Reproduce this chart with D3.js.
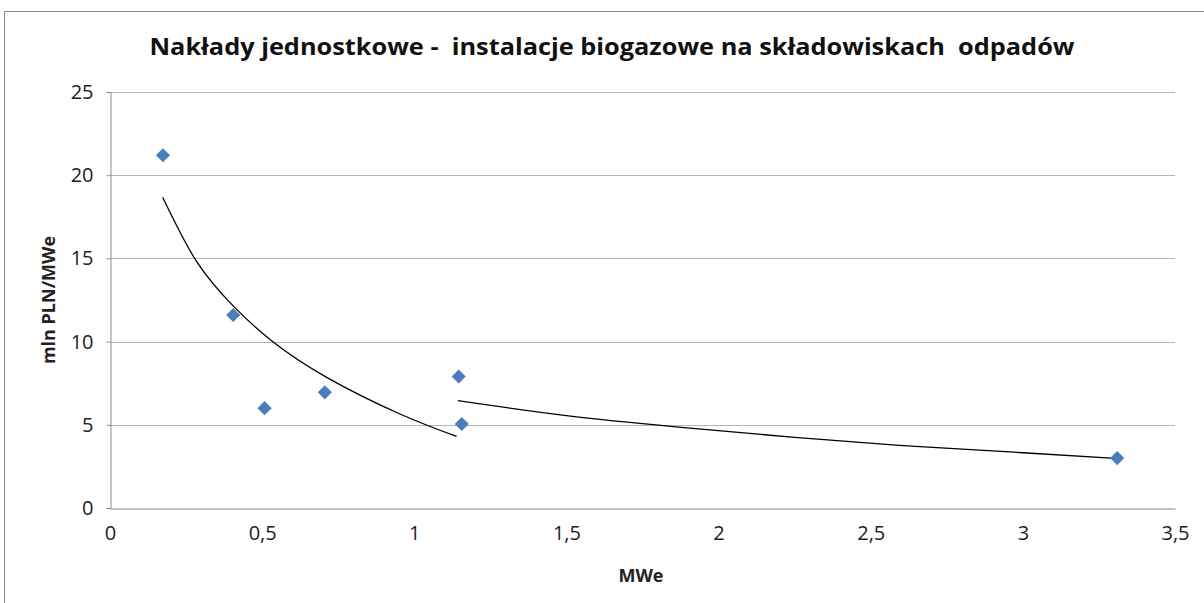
<!DOCTYPE html>
<html><head><meta charset="utf-8">
<script src="https://cdn.jsdelivr.net/npm/d3@7"></script>
<style>body{margin:0;background:#fff;}svg{display:block;font-family:"Open Sans",Calibri,sans-serif;}</style>
</head><body>
<svg id="c" width="1204" height="603"></svg>
<script>
const title = "Nakłady jednostkowe -  instalacje biogazowe na składowiskach  odpadów";
const xTitle = "MWe";
const yTitle = "mln PLN/MWe";
const pointsX = [0.174, 0.405, 0.508, 0.706, 1.146, 1.156, 3.31];
const pointsY = [21.2, 11.6, 6.0, 6.95, 7.9, 5.05, 3.0];
const trend1X = [0.173, 0.285, 0.407, 0.531, 0.712, 0.953, 1.139];
const trend1Y = [18.67, 14.8, 12.1, 10.05, 7.85, 5.65, 4.3];
const trend2X = [1.143, 1.5, 1.859, 2.25, 2.635, 3.0, 3.29];
const trend2Y = [6.45, 5.55, 4.88, 4.25, 3.72, 3.32, 3.0];
const xTicks = [0, 0.5, 1, 1.5, 2, 2.5, 3, 3.5];
const yTicks = [0, 5, 10, 15, 20, 25];

const svg = d3.select("#c");
const x = d3.scaleLinear().domain([0, 3.5]).range([110, 1175]);
const y = d3.scaleLinear().domain([0, 25]).range([508, 92]);
const fmt = d => String(d).replace(".", ",");

// outer frame
svg.append("path").attr("d", "M4.5,603 L4.5,11.5 L1204,11.5").attr("fill", "none").attr("stroke", "#8c8c8c").attr("stroke-width", 1);

// gridlines
svg.append("g").selectAll("line").data(yTicks.filter(d => d > 0)).join("line")
  .attr("x1", x(0)).attr("x2", x(3.5)).attr("y1", d => Math.round(y(d)) + 0.5).attr("y2", d => Math.round(y(d)) + 0.5)
  .attr("stroke", "#b4b4b4").attr("stroke-width", 1);

// y axis
const yAxis = svg.append("g").attr("transform", `translate(${x(0) + 0.5},0)`)
  .call(d3.axisLeft(y).tickValues(yTicks).tickSize(4).tickPadding(13).tickFormat(fmt));
yAxis.attr("font-size", 20).attr("font-family", "Open Sans");
yAxis.select(".domain").attr("stroke", "#8c8c8c");
yAxis.selectAll(".tick line").attr("stroke", "#8c8c8c");
yAxis.selectAll(".tick text").attr("fill", "#222");

// x axis
const xAxis = svg.append("g").attr("transform", `translate(0,${Math.round(y(0)) + 0.5})`)
  .call(d3.axisBottom(x).tickValues(xTicks).tickSize(0).tickPadding(17).tickFormat(fmt));
xAxis.attr("font-size", 20).attr("font-family", "Open Sans");
xAxis.select(".domain").attr("stroke", "#8c8c8c");
xAxis.selectAll(".tick text").attr("fill", "#222");

// trend lines
const line = d3.line().x(d => x(d[0])).y(d => y(d[1])).curve(d3.curveNatural);
[[trend1X, trend1Y], [trend2X, trend2Y]].forEach(([xs, ys]) => {
  svg.append("path").datum(xs.map((v, i) => [v, ys[i]])).attr("d", line)
    .attr("fill", "none").attr("stroke", "#000").attr("stroke-width", 1.3);
});

// diamonds
const diamond = d3.symbol().type(d3.symbolSquare).size(100);
svg.append("g").selectAll("path").data(pointsX.map((v, i) => [v, pointsY[i]])).join("path")
  .attr("d", diamond)
  .attr("transform", d => `translate(${x(d[0])},${y(d[1])}) rotate(45)`)
  .attr("fill", "#4a7ebb");

// titles
svg.append("text").attr("x", 612).attr("y", 55).attr("text-anchor", "middle")
  .attr("font-size", 24).attr("font-weight", "bold").attr("fill", "#111")
  .style("white-space", "pre").attr("xml:space", "preserve")
  .attr("textLength", 925).attr("lengthAdjust", "spacingAndGlyphs").text(title);
svg.append("text").attr("x", 641).attr("y", 582).attr("text-anchor", "middle")
  .attr("font-size", 18).attr("font-weight", "bold").attr("fill", "#222").text(xTitle);
svg.append("text").attr("transform", "translate(55,300) rotate(-90)").attr("text-anchor", "middle")
  .attr("font-size", 18).attr("font-weight", "bold").attr("fill", "#222").text(yTitle);
</script>
</body></html>
